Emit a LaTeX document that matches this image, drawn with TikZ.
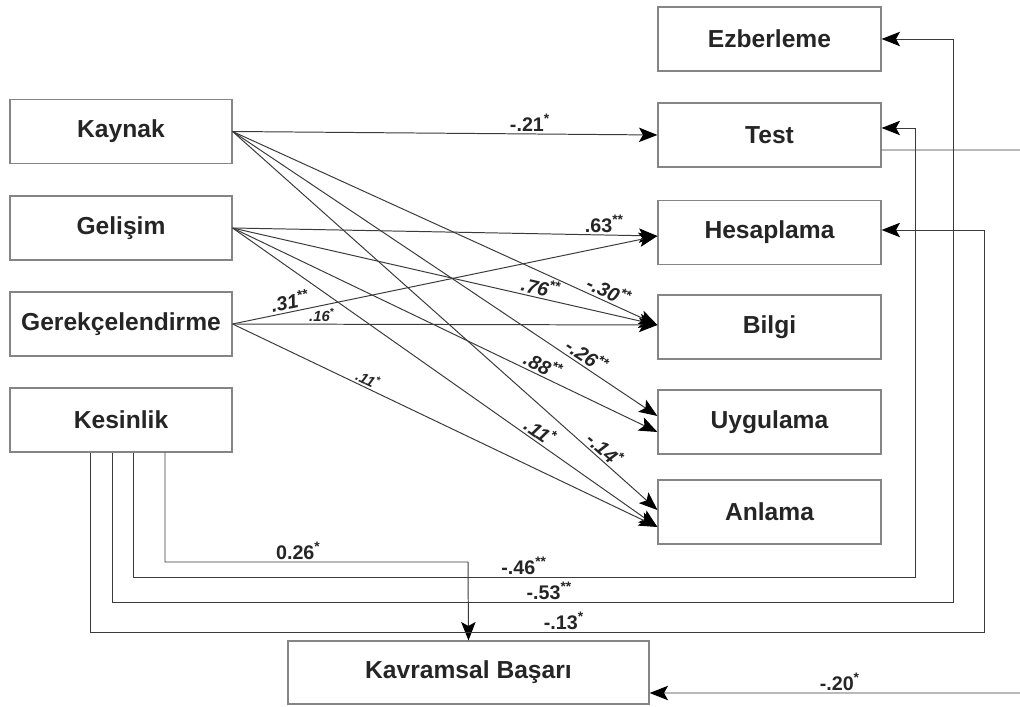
\documentclass[tikz,border=0pt]{standalone}
\usepackage{fontspec}
\setmainfont{Liberation Sans}
\usetikzlibrary{arrows.meta, calc}

\definecolor{boxgray}{HTML}{858585}
\definecolor{linegray}{HTML}{3A3A3A}
\definecolor{txtgray}{HTML}{252525}

\tikzset{>={Stealth[length=4.6mm, width=3.6mm, inset=1mm, black]}}

\begin{document}
\begin{tikzpicture}[x=0.025cm, y=-0.025cm,
  box/.style={draw=boxgray, line width=0.8pt, minimum height=1.6cm, inner sep=0pt,
    text=txtgray, font=\fontsize{17.5}{20}\selectfont\bfseries},
  lbox/.style={box, minimum width=5.55cm},
  rbox/.style={box, minimum width=5.575cm},
  link/.style={->, linegray, line width=0.7pt},
  coef/.style={text=txtgray, inner sep=1.5pt, font=\fontsize{14}{16}\selectfont\bfseries},
  slcoef/.style={coef, sloped, font=\fontsize{14}{16}\selectfont\bfseries\itshape},
  smcoef/.style={coef, sloped, font=\fontsize{10.5}{12}\selectfont\bfseries\itshape}]
  \useasboundingbox (0,0) rectangle (1020,707);

  % predictors
  \node[lbox] (kaynak) at (121,131.5) {Kaynak};
  \node[lbox] (gelisim) at (121,228) {Gelişim};
  \node[lbox] (gerek) at (121,324) {Gerekçelendirme};
  \node[lbox] (kesin) at (121,420) {Kesinlik};
  % outcomes
  \node[rbox] (ezber) at (769.5,39) {Ezberleme};
  \node[rbox] (test) at (769.5,135) {Test};
  \node[rbox] (hesap) at (769.5,232.5) {Hesaplama};
  \node[rbox] (bilgi) at (769.5,327) {Bilgi};
  \node[rbox] (uygul) at (769.5,422) {Uygulama};
  \node[rbox] (anlama) at (769.5,512) {Anlama};
  \node[box, minimum width=9.025cm, minimum height=1.575cm] (kavram) at (468.5,672.5) {Kavramsal Başarı};

  % Kaynak
  \draw[link] (kaynak.east) -- node[coef, above, pos=0.70] {-.21\textsuperscript{*}} (test.west);
  \draw[link] (kaynak.east) -- node[slcoef, above, pos=0.875] {-.30\textsuperscript{**}} ($(bilgi.west)+(0,-2)$);
  \draw[link] (kaynak.east) -- node[slcoef, above, pos=0.82] {-.26\textsuperscript{**}} ($(uygul.west)+(0,-6)$);
  \draw[link] (kaynak.east) -- node[slcoef, above, pos=0.86] {-.14\textsuperscript{*}} ($(anlama.west)+(0,-2)$);
  % Gelisim
  \draw[link] (gelisim.east) -- node[coef, above, pos=0.875] {.63\textsuperscript{**}} ($(hesap.west)+(0,3.5)$);
  \draw[link] (gelisim.east) -- node[slcoef, above, pos=0.72] {.76\textsuperscript{**}} ($(bilgi.west)+(0,-2)$);
  \draw[link] (gelisim.east) -- node[slcoef, above, pos=0.72] {.88\textsuperscript{**}} ($(uygul.west)+(0,10)$);
  \draw[link] (gelisim.east) -- node[slcoef, above, pos=0.71] {.11\textsuperscript{*}} ($(anlama.west)+(0,15)$);
  % Gerekcelendirme
  \draw[link] (gerek.east) -- node[slcoef, above, pos=0.14] {.31\textsuperscript{**}} ($(hesap.west)+(0,3.5)$);
  \draw[link] (gerek.east) -- node[smcoef, above, pos=0.21] {.16\textsuperscript{*}} ($(bilgi.west)+(0,-2)$);
  \draw[link] (gerek.east) -- node[smcoef, above, pos=0.31] {.11\textsuperscript{*}} ($(anlama.west)+(0,15)$);
  % Kesinlik
  \draw[link] ($(kesin.south)+(44,0)$) |- node[coef, above, pos=0.72] {0.26\textsuperscript{*}} (468,562) -- (kavram.north);
  \draw[link] ($(kesin.south)+(12,0)$) |- node[coef, above, pos=0.75] {-.46\textsuperscript{**}} (915,577) |- ($(test.east)+(0,-7)$);
  \draw[link] ($(kesin.south)+(-9,0)$) |- node[coef, above, pos=0.76] {-.53\textsuperscript{**}} (953,602) |- (ezber.east);
  \draw[link] ($(kesin.south)+(-31,0)$) |- node[coef, above, pos=0.765] {-.13\textsuperscript{*}} (984,632) |- ($(hesap.east)+(0,-2.5)$);
  % Test
  \draw[link] ($(test.east)+(0,15)$) -| (1030,693) -- node[coef, above, pos=0.5] {-.20\textsuperscript{*}} ($(kavram.east)+(0,20.5)$);
\end{tikzpicture}
\end{document}
